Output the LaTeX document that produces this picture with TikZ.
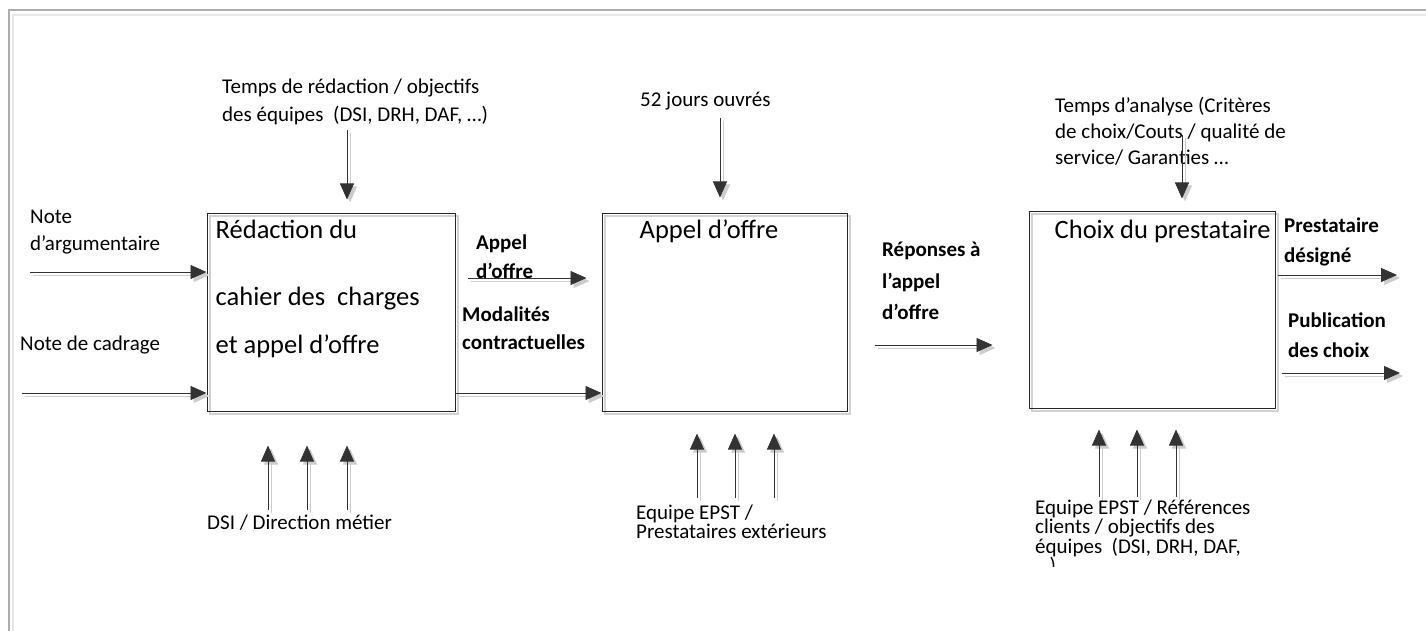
\documentclass[tikz,border=0pt]{standalone}
\usepackage{fontspec}
\setmainfont{Carlito}
\usepackage{tikz}
\usetikzlibrary{arrows.meta}
\usetikzlibrary{positioning}

\tikzset{
  procbox/.style={draw=black!85, line width=1pt, minimum width=#1, minimum height=198pt,
    inner sep=0pt, preaction={draw=gray!35, line width=1.2pt, transform canvas={xshift=3pt, yshift=-3pt}}},
  procbox/.default=246pt,
  boxtxt/.style={anchor=north west, inner sep=0pt, align=left, font=\fontsize{26.5pt}{48pt}\selectfont},
  lbl/.style={anchor=north west, inner sep=0pt, align=left, font=\fontsize{21pt}{#1pt}\selectfont},
  lbl/.default=27,
  blbl/.style={lbl=#1, font=\fontsize{21pt}{#1pt}\selectfont\bfseries},
  blbl/.default=29,
  flow/.style={draw=black!80, line width=0.8pt, -{Triangle[length=16pt, width=14pt]},
    preaction={draw=gray!40, line width=1pt, transform canvas={xshift=3pt, yshift=-3pt}}},
}

\begin{document}
\begin{tikzpicture}[x=1pt, y=-1pt]
\useasboundingbox (0,0) rectangle (1426,631);
% frame
\draw[gray!65, line width=2pt] (9,631) -- (9,10) -- (1426,10);
\draw[gray!18, line width=1.5pt] (13,631) -- (13,15) -- (1426,15);

% boxes
\node[procbox=248pt] (redac) at (331,312) {};
\node[procbox=245pt] (appel) at (724.5,312) {};
\node[procbox=246pt, minimum height=197pt] (choix) at (1152,309.5) {};

\node[boxtxt, below right=7pt and 9pt of redac.north west] (redacT)
  {Rédaction du\\[19pt]cahier des\ \ charges\\et appel d’offre};
\node[boxtxt, below right=7pt and 38pt of appel.north west] (appelT) {Appel d’offre};
\node[boxtxt, below right=9pt and 26pt of choix.north west] (choixT) {Choix du prestataire};

% labels
\node[lbl] (noteA) at (30,210) {Note\\d’argumentaire};
\node[lbl] (noteB) at (20,336) {Note de cadrage};
\node[lbl=28] (tempsA) at (222,79) {Temps de rédaction / objectifs\\des équipes\ \ (DSI, DRH, DAF, …)};
\node[lbl] (dsi) at (207,515) {DSI / Direction métier};
\node[blbl] (ao) at (476,235) {Appel\\d’offre};
\node[blbl=28] (modal) at (462,307) {Modalités\\contractuelles};
\node[lbl] (jours) at (640,92) {52 jours ouvrés};
\node[lbl=19] (epstA) at (636,505) {Equipe EPST /\\Prestataires extérieurs};
\node[blbl=31.5] (rep) at (882,242) {Réponses à\\l’appel\\d’offre};
\node[lbl=26] (tempsB) at (1055,97) {Temps d’analyse (Critères\\de choix/Couts / qualité de\\service/ Garanties …};
\node[blbl=30] (prest) at (1284,218) {Prestataire\\désigné};
\node[blbl=30] (publ) at (1288,313) {Publication\\des choix};
\begin{scope}
  \clip (1020,480) rectangle (1320,566);
  \node[lbl=18.5] (epstB) at (1035,500) {Equipe EPST / Références\\clients / objectifs des\\équipes\ \ (DSI, DRH, DAF,\\…)};
\end{scope}

% inputs
\coordinate (inA) at (30,272);
\coordinate (inB) at (22,393);
\draw[flow] (inA) -- (inA -| redac.west);
\draw[flow] (inB) -- (inB -| redac.west);
\coordinate (mA) at (468,278);
\coordinate (mB) at (456,393);
\draw[flow, shorten >=15pt] (mA) -- (mA -| appel.west);
\draw[flow] (mB) -- (mB -| appel.west);
\coordinate (rA) at (875,345);
\draw[flow, shorten >=36pt] (rA) -- (rA -| choix.west);
\coordinate (oA) at (1397,275);
\coordinate (oB) at (1400,373);
\draw[flow] ([xshift=2pt]oA -| choix.east) -- (oA);
\draw[flow] ([xshift=6pt]oB -| choix.east) -- (oB);

% controls
\coordinate (tA) at (347,130);
\coordinate (tB) at (720,118);
\coordinate (tC) at (1182,135);
\draw[flow, shorten >=13pt] (tA) -- (tA |- redac.north);
\draw[flow, shorten >=15pt] (tB) -- (tB |- appel.north);
\draw[flow, shorten >=12pt] (tC) -- (tC |- choix.north);

% resources
\foreach \n/\x in {a/268,b/307,c/347} {
  \coordinate (ua\n) at (\x,510);
  \draw[flow, shorten >=34pt] (ua\n) -- (ua\n |- redac.south);
}
\foreach \n/\x in {a/697,b/735,c/774} {
  \coordinate (ub\n) at (\x,498);
  \draw[flow, shorten >=22pt] (ub\n) -- (ub\n |- appel.south);
}
\foreach \n/\x in {a/1099,b/1137,c/1176} {
  \coordinate (uc\n) at (\x,497);
  \draw[flow, shorten >=21pt] (uc\n) -- (uc\n |- choix.south);
}
\end{tikzpicture}
\end{document}
